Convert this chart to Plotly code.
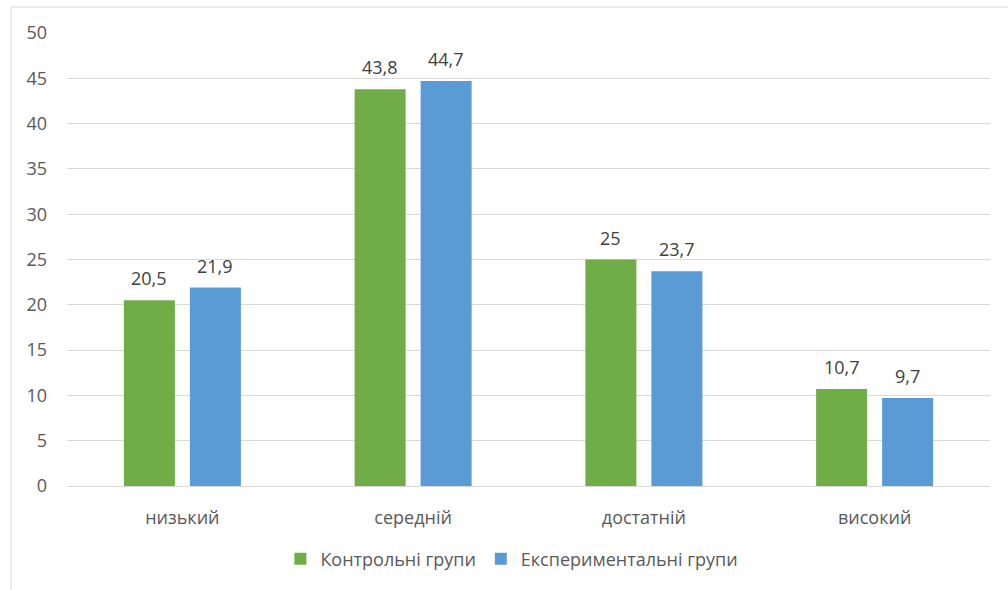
import plotly.graph_objects as go

# Рівні сформованості та відсоткові частки груп
levels = ["низький", "середній", "достатній", "високий"]
control = [20.5, 43.8, 25, 10.7]
experimental = [21.9, 44.7, 23.7, 9.7]
y_ticks = [0, 5, 10, 15, 20, 25, 30, 35, 40, 45, 50]

GREEN = "#70ad47"
BLUE = "#5b9bd5"
FONT = "Open Sans, Noto Sans, sans-serif"
SIZE = 18


def fmt(v):
    return f"{v:g}".replace(".", ",")


fig = go.Figure()
fig.add_trace(go.Bar(
    name="Контрольні групи", x=levels, y=control,
    marker=dict(color=GREEN, line=dict(width=0)),
))
fig.add_trace(go.Bar(
    name="Експериментальні групи", x=levels, y=experimental,
    marker=dict(color=BLUE, line=dict(width=0)),
))

# Підписи значень над стовпчиками
for series, shift in ((control, -33), (experimental, 33)):
    for lvl, v in zip(levels, series):
        fig.add_annotation(
            x=lvl, y=v, xref="x", yref="y", text=fmt(v), showarrow=False,
            xshift=shift, yshift=8, yanchor="bottom",
            font=dict(size=SIZE, color="#404040", family=FONT),
        )

fig.update_layout(
    width=1008, height=590,
    margin=dict(l=67, r=18, t=33, b=104),
    paper_bgcolor="white", plot_bgcolor="white",
    font=dict(family=FONT, color="#595959", size=SIZE),
    barmode="group", bargap=0.428, bargroupgap=0.227,
    showlegend=True,
    legend=dict(
        orientation="h", x=0.482, xanchor="center", y=-0.161, yanchor="middle",
        font=dict(size=SIZE, color="#595959"), itemwidth=30,
        traceorder="normal",
    ),
    xaxis=dict(
        showgrid=False, showline=True, linecolor="#d9d9d9", linewidth=1,
        ticks="outside", ticklen=0, ticklabelstandoff=15,
        tickfont=dict(size=SIZE, color="#595959"),
    ),
    yaxis=dict(
        range=[0, 50], tickvals=y_ticks, showgrid=True, gridcolor="#d9d9d9",
        gridwidth=1, zeroline=False, showline=False,
        ticklabelstandoff=19, tickfont=dict(size=SIZE, color="#595959"),
    ),
)

# Рамка області діаграми
fig.add_shape(
    type="rect", xref="paper", yref="paper",
    x0=-0.0607, x1=1.05, y0=-0.3, y1=1.0574,
    line=dict(color="#d9d9d9", width=1), fillcolor="rgba(0,0,0,0)", layer="below",
)

fig.write_html("out.html")
